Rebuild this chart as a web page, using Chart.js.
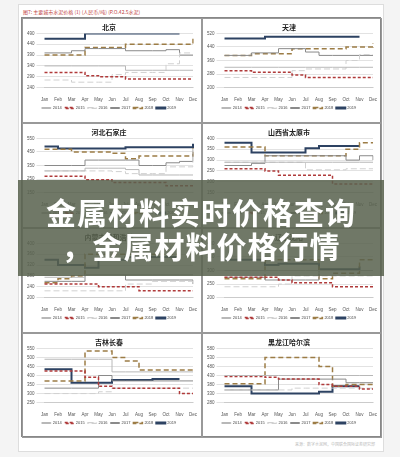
<!DOCTYPE html>
<html><head><meta charset="utf-8">
<script src="https://cdn.jsdelivr.net/npm/chart.js@4"></script>
<style>
body{margin:0;background:#f4f4f4;font-family:"Noto Sans CJK SC",sans-serif;}
#panel{position:absolute;left:18px;top:4px;width:364px;height:446px;background:#fff;border:1px solid #ddd;}
#hdr{position:absolute;left:4px;top:3px;font-size:5px;color:#c04040;}
#grid{position:absolute;left:2px;top:12px;width:360px;height:420px;display:grid;grid-template-columns:180px 180px;grid-template-rows:105px 105px 105px 105px;border:1px solid #888;box-sizing:border-box;}
#grid div{border:1px solid #999;position:relative;overflow:hidden;min-width:0;min-height:0;}
#grid canvas{position:absolute;left:0;top:0;}
#src{position:absolute;right:8px;bottom:4px;font-size:4px;color:#bbb;}
#banner{position:absolute;left:18px;top:180px;width:366px;height:96px;background:rgba(88,98,78,0.86);color:#fff;font-weight:bold;font-size:30px;line-height:34px;text-align:center;padding-top:14px;box-sizing:border-box;letter-spacing:1px;}
</style></head><body>
<div id="panel">
<div id="hdr">图7: 主要城市水泥价格 (1) (人民币/吨) (P.O.42.5水泥)</div>
<div id="grid">
<div><canvas id="c0"></canvas></div><div><canvas id="c1"></canvas></div>
<div><canvas id="c2"></canvas></div><div><canvas id="c3"></canvas></div>
<div><canvas id="c4"></canvas></div><div><canvas id="c5"></canvas></div>
<div><canvas id="c6"></canvas></div><div><canvas id="c7"></canvas></div>
</div>
<div id="src">来源：数字水泥网，中国联合国际证券研究部</div>
</div>
<div id="banner">金属材料实时价格查询<br>，金属材料价格行情</div>
<script>
const months = ["Jan","Feb","Mar","Apr","May","Jun","Jul","Aug","Sep","Oct","Nov","Dec"];
const years = ["2014","2015","2016","2017","2018","2019"];
const cities = ["北京","天津","河北石家庄","山西省太原市","内蒙古呼和浩特","辽宁沈阳","吉林长春","黑龙江哈尔滨"];
const yMin = [240,200,150,150,200,200,250,280];
const yMax = [490,520,550,400,400,400,550,580];
const yStep = [50,40,50,50,40,50,50,50];
const beijing = [
 [340,340,340,340,340,340,320,320,320,320,320,320],
 [310,310,310,295,290,290,280,280,280,280,280,280],
 [275,275,265,265,265,300,310,310,310,350,400,400],
 [400,400,410,420,420,420,410,410,410,415,390,390],
 [390,390,390,425,425,425,440,440,440,440,440,465],
 [465,465,465,490,490,490,490,490,490,490,490,null]];
const tianjin = [
 [320,320,320,320,320,320,320,320,320,320,320,320],
 [300,300,290,290,290,275,260,260,260,260,260,260],
 [260,260,260,260,260,300,310,310,310,360,395,395],
 [390,390,405,405,430,430,410,390,390,390,390,390],
 [390,390,400,400,400,430,430,430,430,440,440,460],
 [490,490,490,500,500,500,500,500,500,500,500,null]];
const hebei = [
 [310,310,310,330,330,330,320,280,280,280,280,280],
 [270,270,270,245,245,225,225,225,225,200,200,200],
 [310,310,310,310,310,305,290,290,290,340,340,470],
 [350,350,350,390,390,390,390,350,350,370,380,470],
 [470,470,450,450,450,440,400,420,420,420,420,480],
 [490,475,475,475,475,475,485,485,485,485,485,510]];
const shanxi = [
 [290,290,290,290,290,290,290,290,290,290,290,290],
 [260,260,260,250,230,230,230,230,190,190,190,190],
 [290,290,290,290,290,290,255,255,255,260,260,260],
 [275,275,285,320,320,320,320,320,320,300,320,300],
 [360,360,360,320,320,320,320,320,320,350,380,380],
 [380,380,335,335,335,335,355,365,365,365,365,null]];
const neimeng = [
 [275,275,275,285,285,285,285,285,285,285,285,285],
 [250,250,250,250,240,240,240,225,225,225,225,225],
 [225,225,225,225,225,225,250,250,260,260,260,260],
 [260,260,260,285,285,285,265,265,265,265,265,250],
 [255,270,280,360,360,360,360,360,360,360,360,null],
 [340,320,320,310,340,340,350,350,350,350,350,null]];
const liaoning = [
 [300,300,300,300,300,300,300,300,300,300,300,300],
 [275,275,275,275,265,255,255,255,240,240,240,240],
 [240,240,240,240,250,280,280,280,280,280,280,280],
 [275,275,275,265,265,265,265,300,300,300,300,300],
 [270,270,270,340,340,340,340,270,290,290,340,340],
 [340,340,340,320,325,325,325,305,305,305,315,null]];
const jilin = [
 [490,490,490,490,490,420,420,420,420,420,420,420],
 [425,425,425,390,340,330,330,330,330,330,300,300],
 [300,300,300,300,310,330,330,330,330,330,330,330],
 [330,330,330,330,400,370,370,370,370,370,370,370],
 [370,370,370,535,535,500,480,430,430,430,430,430],
 [435,435,360,360,360,375,375,375,380,380,380,null]];
const heilong = [
 [430,430,430,430,430,430,430,430,430,430,430,430],
 [425,425,425,420,410,410,410,380,370,370,355,355],
 [350,350,350,350,350,360,360,360,360,360,360,360],
 [350,350,350,350,410,410,410,410,410,390,390,390],
 [385,385,385,530,530,530,530,480,370,380,380,380],
 [370,370,330,330,330,330,330,340,370,370,370,null]];
const cityData = [beijing,tianjin,hebei,shanxi,neimeng,liaoning,jilin,heilong];
const styles = [
 {borderColor:"#b8b8b8",borderWidth:1},
 {borderColor:"#b03a3a",borderWidth:1.5,borderDash:[3,2]},
 {borderColor:"#d0d0d0",borderWidth:1,borderDash:[6,3]},
 {borderColor:"#8a8a8a",borderWidth:1},
 {borderColor:"#9c7c45",borderWidth:1.5,borderDash:[5,3]},
 {borderColor:"#2d4262",borderWidth:2}];
Chart.defaults.font.family = "Liberation Sans";
cityData.forEach((data, i) => {
  new Chart(document.getElementById("c" + i), {
    type: "line",
    data: {
      labels: months,
      datasets: years.map((y, k) => Object.assign({label: y, data: data[k], stepped: true, pointRadius: 0, fill: false}, styles[k]))
    },
    options: {
      responsive: true, maintainAspectRatio: false, animation: false,
      layout: {padding: {left: 2, right: 8, top: 0, bottom: 2}},
      plugins: {
        title: {display: true, text: cities[i], font: {size: 7, weight: "bold", family: "Noto Sans CJK SC"}, color: "#222", padding: {top: 4, bottom: 2}},
        legend: {position: "bottom", labels: {boxWidth: 9, boxHeight: 1, font: {size: 4}, padding: 3, color: "#444"}}
      },
      scales: {
        x: {grid: {display: false}, ticks: {font: {size: 4.5}, color: "#555", padding: 1, maxRotation: 0, autoSkip: false}},
        y: {min: yMin[i], max: yMax[i], ticks: {stepSize: yStep[i], font: {size: 4.5}, color: "#555", padding: 2}, grid: {color: "#e2e2e2"}, border: {display: false}}
      }
    }
  });
});
</script>
</body></html>
